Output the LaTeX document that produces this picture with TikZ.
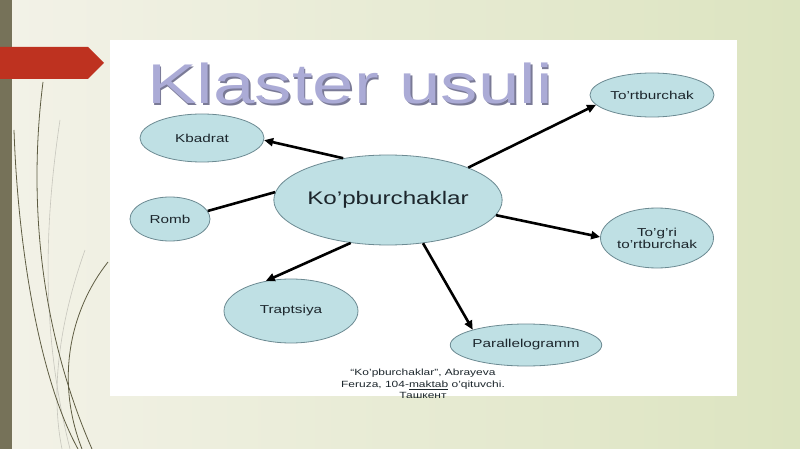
\documentclass[tikz,border=0pt]{standalone}
\usepackage{fontspec}
\setmainfont{Liberation Sans}
\usetikzlibrary{arrows.meta,shapes.geometric}
\newcommand{\hst}[1]{\scalebox{1.33}[1]{#1}}
\definecolor{bgl}{HTML}{F3F2E8}
\definecolor{bgr}{HTML}{DCE4C0}
\definecolor{barc}{HTML}{767259}
\definecolor{redc}{HTML}{BE3220}
\definecolor{wisp}{HTML}{5E5C42}
\definecolor{ellfill}{HTML}{BFE0E4}
\definecolor{elldraw}{HTML}{6C8A92}
\definecolor{titlec}{HTML}{ABABD6}
\definecolor{titles}{HTML}{7A7A96}
\definecolor{txtc}{HTML}{1C262C}
\tikzset{
  ell/.style={ellipse, fill=ellfill, draw=elldraw, line width=0.8pt, inner sep=0pt, text=txtc, font=\fontsize{11.5}{13}\selectfont, align=center},
  conn/.style={line width=2.6pt, black},
  arr/.style={conn, -{Triangle[length=9pt,width=8pt]}},
  wispline/.style={wisp, line width=0.8pt},
  wispfaint/.style={wisp!35, line width=0.6pt}
}
\begin{document}
\begin{tikzpicture}[x=1pt,y=-1pt]
\useasboundingbox (0,0) rectangle (800,449);
% background
\shade[left color=bgl, right color=bgr] (0,0) rectangle (800,449);
\fill[barc] (0,0) rectangle (12,449);
% wisps
\draw[wispfaint] (60,120) .. controls (45,220) and (40,330) .. (70,449);
\draw[wispfaint] (85,250) .. controls (60,320) and (50,390) .. (62,449);
\draw[wispline] (14,130) .. controls (18,250) and (40,380) .. (78,449);
\draw[wispline] (43,82) .. controls (28,200) and (40,330) .. (92,449);
\draw[wispline] (108,262) .. controls (70,310) and (55,380) .. (82,449);
% red arrow shape
\fill[redc] (0,47) -- (88,47) -- (104,63) -- (88,79) -- (0,79) -- cycle;
% white panel
\fill[white] (110,40) rectangle (737,396);
% title
\node[anchor=base, text=titles, font=\fontsize{56}{60}\selectfont] (ttls) at (351.8,105.8) {\hst{Klaster usuli}};
\node[anchor=base, text=titlec, font=\fontsize{56}{60}\selectfont] (ttl) at (350,104) {\hst{Klaster usuli}};
% ellipses
\node[ell, minimum width=218, minimum height=90, font=\fontsize{18.2}{20}\selectfont] (c) at (388,200) {\hst{Ko’pburchaklar}};
\node[ell, minimum width=124, minimum height=48] (kb) at (202,138) {\hst{Kbadrat}};
\node[ell, minimum width=80, minimum height=44] (rb) at (170,219) {\hst{Romb}};
\node[ell, minimum width=124, minimum height=44] (tr) at (652,95) {\hst{To’rtburchak}};
\node[ell, minimum width=104, minimum height=60] (tg) at (657,238) {\hst{To’g’ri}\\[-1pt]\hst{to’rtburchak}};
\node[ell, minimum width=134, minimum height=64] (tp) at (291,311) {\hst{Traptsiya}};
\node[ell, minimum width=140, minimum height=42] (pl) at (526,345) {\hst{Parallelogramm}};
% connectors
\draw[arr] (c.137) -- (kb.-2);
\draw[conn] (c.176) -- (rb.12);
\draw[arr] (c.22) -- (tr.190);
\draw[arr] (c.-8) -- (tg.179);
\draw[arr] (c.-51) -- (pl.164);
\draw[arr] (c.229) -- (tp.130);
% footnote
\begin{scope}
\clip (110,40) rectangle (737,397);
\node[text=txtc, font=\fontsize{9}{11.5}\selectfont, align=center, inner sep=0pt] (fn) at (423,384)
  {\hst{“Ko’pburchaklar”, Abrayeva}\\\hst{Feruza, 104-\underline{maktab} o’qituvchi.}\\\hst{Ташкент}};
\end{scope}
\end{tikzpicture}
\end{document}
